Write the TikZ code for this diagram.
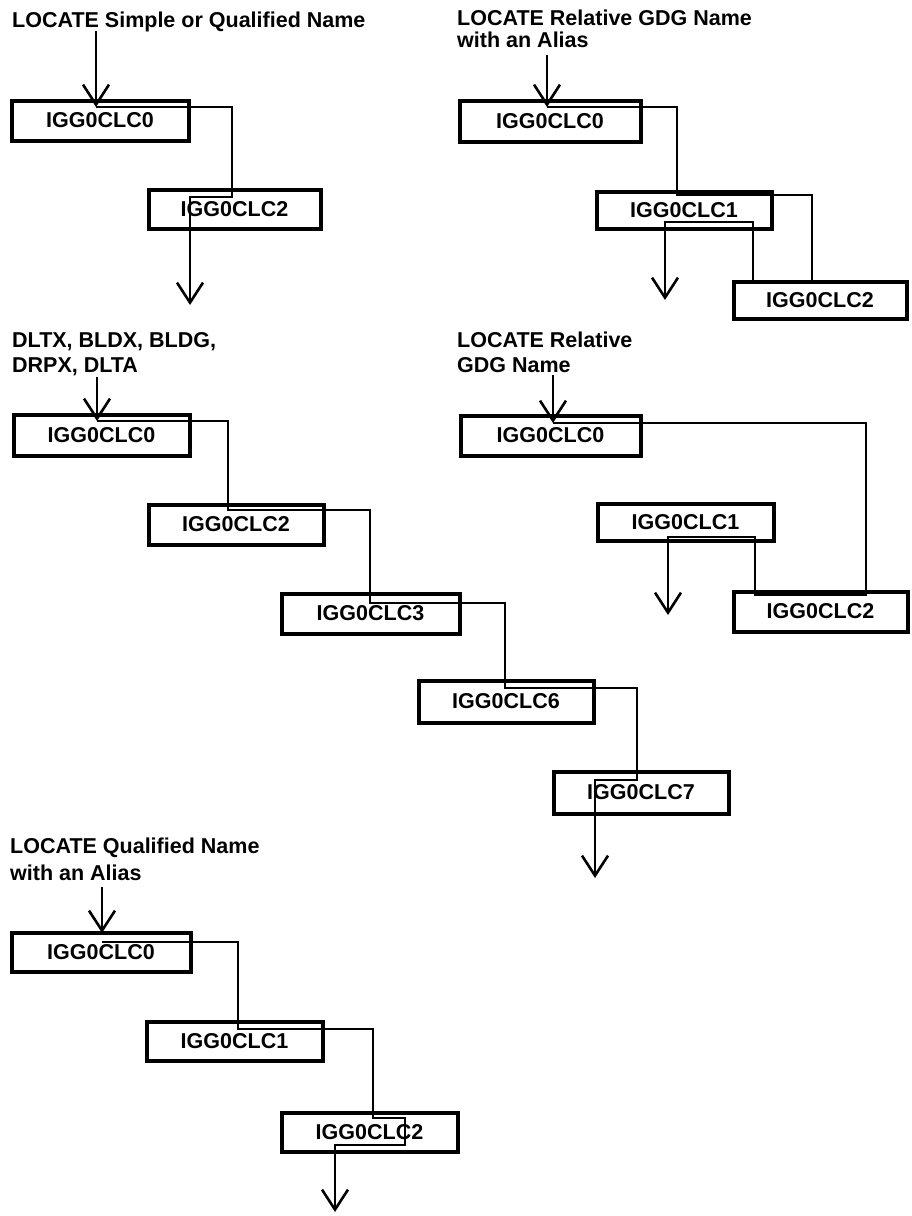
\documentclass[tikz,border=0pt]{standalone}
\usepackage{fontspec}
\setmainfont{Liberation Sans}
\usetikzlibrary{arrows.meta}
\newcommand\lblfont{\fontsize{21.5}{25}\selectfont\bfseries}
\begin{document}
\begin{tikzpicture}[x=1pt,y=-1pt,
  box/.style={draw, line width=4pt, inner sep=0pt, font=\lblfont},
  flow/.style={line width=2.6pt, line join=miter},
  arr/.style={flow, -{Straight Barb[length=20pt,width=26pt]}},
  ttl/.style={anchor=base west, inner sep=0pt, font=\lblfont}]
\useasboundingbox (0,0) rectangle (912,1216);

% ---------- Diagram 1 ----------
\node[ttl] (t1) at (12,27) {LOCATE Simple or Qualified Name};
\node[box, minimum width=177pt, minimum height=40pt] (a0) at (100,120.5) {IGG0CLC0};
\node[box, minimum width=172pt, minimum height=39pt] (a1) at (234.5,209) {IGG0CLC2};
\coordinate (in1) at (96,31);
\coordinate (j1) at (96,107);
\coordinate (out1) at (190,305);
\draw[arr] (in1) -- (j1);
\draw[arr] (j1) -- (232,107) -- (232,197) -- (190,197) -- (out1);

% ---------- Diagram 2 ----------
\node[ttl] (t2a) at (457,25) {LOCATE Relative GDG Name};
\node[ttl] (t2b) at (457,47) {with an Alias};
\node[box, minimum width=181pt, minimum height=41pt] (b0) at (550,121) {IGG0CLC0};
\node[box, minimum width=175pt, minimum height=37pt] (b1) at (684,210) {IGG0CLC1};
\node[box, minimum width=173pt, minimum height=37pt] (b2) at (820,300) {IGG0CLC2};
\coordinate (in2) at (547,55);
\coordinate (j2) at (547,107);
\coordinate (out2) at (665,300);
\draw[arr] (in2) -- (j2);
\draw[arr] (j2) -- (677,107) -- (677,195) -- (812,195) -- (812,283) -- (753,283) -- (753,222) -- (665,222) -- (out2);

% ---------- Diagram 3 ----------
\node[ttl] (t3a) at (12,347) {DLTX, BLDX, BLDG,};
\node[ttl] (t3b) at (12,372) {DRPX, DLTA};
\node[box, minimum width=176pt, minimum height=41pt] (c0) at (101.5,435) {IGG0CLC0};
\node[box, minimum width=175pt, minimum height=40pt] (c1) at (236,524.5) {IGG0CLC2};
\node[box, minimum width=178pt, minimum height=40pt] (c2) at (370.5,613.5) {IGG0CLC3};
\node[box, minimum width=175pt, minimum height=42pt] (c3) at (506,701.5) {IGG0CLC6};
\node[box, minimum width=175pt, minimum height=42pt] (c4) at (641,792.5) {IGG0CLC7};
\coordinate (in3) at (97,377);
\coordinate (j3) at (97,421);
\coordinate (out3) at (595,878);
\draw[arr] (in3) -- (j3);
\draw[arr] (j3) -- (228,421) -- (228,510) -- (370,510) -- (370,603) -- (505,603) -- (505,688) -- (637,688) -- (637,780) -- (595,780) -- (out3);

% ---------- Diagram 4 ----------
\node[ttl] (t4a) at (457,347) {LOCATE Relative};
\node[ttl] (t4b) at (457,372) {GDG Name};
\node[box, minimum width=180pt, minimum height=40pt] (d0) at (550.5,435.5) {IGG0CLC0};
\node[box, minimum width=176pt, minimum height=37pt] (d1) at (685.5,522) {IGG0CLC1};
\node[box, minimum width=174pt, minimum height=40pt] (d2) at (820.5,611.5) {IGG0CLC2};
\coordinate (in4) at (553,375);
\coordinate (j4) at (553,423);
\coordinate (out4) at (668,615);
\draw[arr] (in4) -- (j4);
\draw[arr] (j4) -- (866,423) -- (866,595) -- (755,595) -- (755,537) -- (668,537) -- (out4);

% ---------- Diagram 5 ----------
\node[ttl] (t5a) at (10,853) {LOCATE Qualified Name};
\node[ttl] (t5b) at (10,880) {with an Alias};
\node[box, minimum width=179pt, minimum height=39pt] (e0) at (101,952) {IGG0CLC0};
\node[box, minimum width=176pt, minimum height=39pt] (e1) at (234.5,1041) {IGG0CLC1};
\node[box, minimum width=176pt, minimum height=39pt] (e2) at (369.5,1132) {IGG0CLC2};
\coordinate (in5) at (102,887);
\coordinate (j5) at (102,933);
\coordinate (out5) at (335,1212);
\draw[arr] (in5) -- (j5);
\draw[arr] (102,942) -- (238,942) -- (238,1029) -- (373,1029) -- (373,1118) -- (405,1118) -- (405,1145) -- (335,1145) -- (out5);
\end{tikzpicture}
\end{document}
